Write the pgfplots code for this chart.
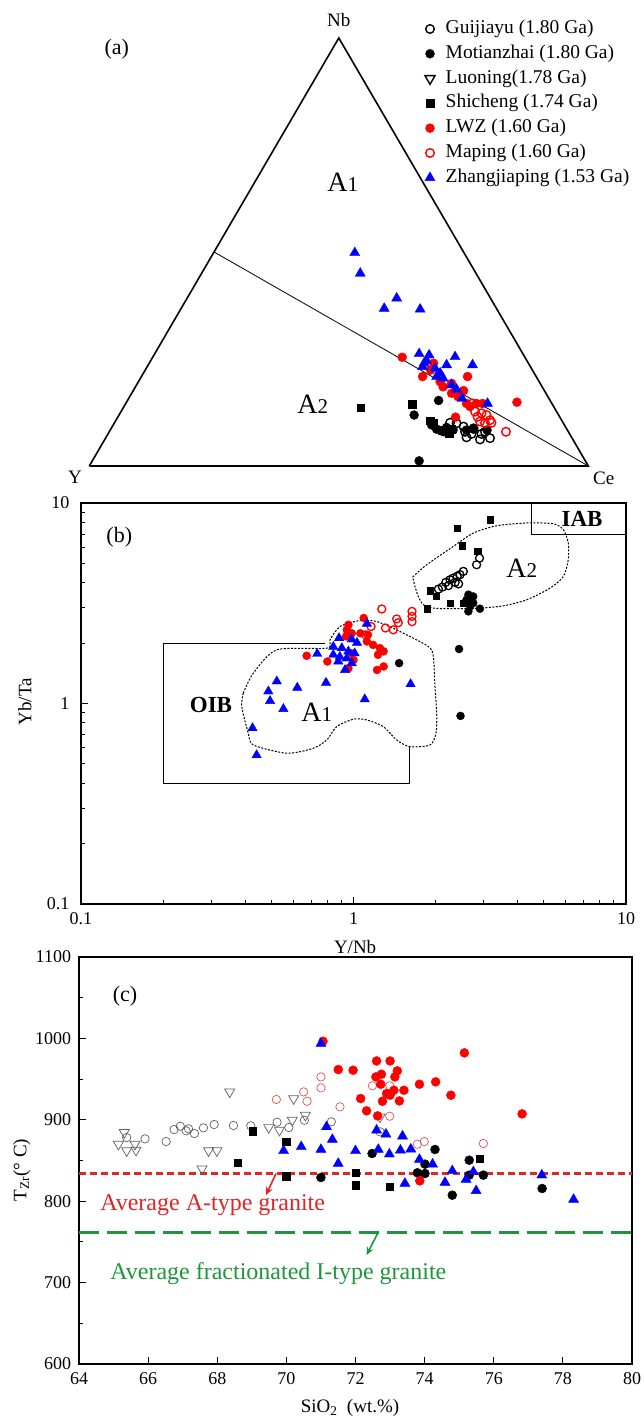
\documentclass[border=0pt]{standalone}
\usepackage{fontspec}
\setmainfont{Liberation Serif}
\usepackage{pgfplots}
\pgfplotsset{compat=1.18}
\usetikzlibrary{arrows.meta}
\newcommand{\fs}[1]{\fontsize{#1}{#1}\selectfont}
\definecolor{myred}{RGB}{255,0,0}
\definecolor{myblue}{RGB}{0,0,255}
\definecolor{linered}{RGB}{222,38,38}
\definecolor{linegreen}{RGB}{30,150,60}
\definecolor{opengray}{RGB}{95,95,95}
\definecolor{lightred}{RGB}{225,85,85}
\pgfplotsset{
  gjy/.style={only marks, mark=o, mark size=4.3pt, black, mark options={line width=1.4pt, fill=white}},
  mtz/.style={only marks, mark=*, mark size=4.5pt, black},
  ln/.style={only marks, mark=triangle, mark size=5.8pt, black, mark options={rotate=180, line width=1.4pt, fill=white}},
  sc/.style={only marks, mark=square*, mark size=3.7pt, black},
  lwz/.style={only marks, mark=*, mark size=4.5pt, myred},
  mp/.style={only marks, mark=o, mark size=4.3pt, myred, mark options={line width=1.4pt, fill=white}},
  zjp/.style={only marks, mark=triangle*, mark size=5.8pt, myblue},
}
\begin{document}
\begin{tikzpicture}[x=1pt,y=1pt]
\path[use as bounding box] (0,0) rectangle (643,1420);

% ---------------- panel (a) ----------------
\begin{axis}[at={(89.3pt,954pt)}, anchor=south west, scale only axis,
  width=499pt, height=428pt, xmin=0, xmax=1, ymin=0, ymax=1,
  hide axis, clip=false,
  legend style={at={(0.6727,1.0456)}, anchor=north west, draw=none, fill=none,
    inner sep=0pt, outer sep=0pt, font=\fs{19.5}, row sep=3.8pt,
    nodes={inner sep=1pt, text height=14pt, text depth=5pt},
    /tikz/every odd column/.append style={column sep=9.7pt}},
  legend cell align=left,
]
\addplot[black, line width=1.6pt, no markers, forget plot, line join=miter] coordinates {(0,0)(1,0)(0.5,1)(0,0)};
\addplot[black, line width=0.8pt, no markers, forget plot] coordinates {(0.25,0.5)(1,0)};

\addplot[gjy] coordinates {(0.723,0.101)(0.736,0.100)(0.750,0.092)(0.753,0.080)(0.770,0.088)(0.756,0.067)(0.783,0.062)(0.803,0.065)(0.793,0.080)(0.786,0.075)(0.766,0.075)};
\addlegendentry{Guijiayu (1.80 Ga)}
\addplot[mtz] coordinates {(0.700,0.153)(0.651,0.119)(0.686,0.096)(0.696,0.086)(0.716,0.090)(0.729,0.084)(0.756,0.084)(0.770,0.086)(0.797,0.084)(0.661,0.012)(0.710,0.080)};
\addlegendentry{Motianzhai (1.80 Ga)}
\addlegendimage{ln}
\addlegendentry{Luoning(1.78 Ga)}
\addplot[sc] coordinates {(0.544,0.136)(0.647,0.144)(0.683,0.106)(0.690,0.100)(0.721,0.075)(0.726,0.086)(0.706,0.084)};
\addlegendentry{Shicheng (1.74 Ga)}
\addplot[lwz] coordinates {(0.627,0.254)(0.690,0.240)(0.668,0.209)(0.758,0.209)(0.684,0.224)(0.703,0.197)(0.726,0.193)(0.750,0.176)(0.726,0.170)(0.739,0.162)(0.756,0.146)(0.776,0.146)(0.788,0.146)(0.857,0.149)(0.734,0.114)(0.709,0.185)(0.763,0.139)};
\addlegendentry{LWZ (1.60 Ga)}
\addplot[mp] coordinates {(0.768,0.146)(0.773,0.127)(0.786,0.123)(0.796,0.119)(0.803,0.107)(0.783,0.104)(0.806,0.101)(0.793,0.100)(0.835,0.080)(0.778,0.115)};
\addlegendentry{Maping (1.60 Ga)}
\addplot[zjp] coordinates {(0.532,0.498)(0.543,0.450)(0.616,0.392)(0.591,0.368)(0.663,0.366)(0.661,0.262)(0.681,0.259)(0.733,0.255)(0.768,0.236)(0.671,0.240)(0.693,0.228)(0.716,0.236)(0.703,0.217)(0.709,0.205)(0.726,0.189)(0.736,0.179)(0.747,0.158)(0.798,0.146)(0.696,0.209)(0.668,0.232)(0.676,0.246)};
\addlegendentry{Zhangjiaping (1.53 Ga)}

\node[font=\fs{19}] at (axis cs:0.5,1.042) {Nb};
\node[font=\fs{19}] at (axis cs:-0.0287,-0.0257) {Y};
\node[font=\fs{19}] at (axis cs:1.031,-0.028) {Ce};
\node[font=\fs{22}] at (axis cs:0.055,0.9736) {(a)};
\node at (axis cs:0.508,0.6636) {{\fs{28}A}{\fs{21}1}};
\node at (axis cs:0.448,0.1449) {{\fs{28}A}{\fs{21}2}};
\end{axis}

% ---------------- panel (b) ----------------
\begin{axis}[at={(81pt,516pt)}, anchor=south west, scale only axis,
  width=545pt, height=401pt, xmode=log, ymode=log,
  xmin=0.1, xmax=10, ymin=0.1, ymax=10,
  xtick={0.1,1,10}, ytick={0.1,1,10}, xticklabels={0.1,1,10}, yticklabels={0.1,1,10},
  minor xtick={0.2,0.3,0.4,0.5,0.6,0.7,0.8,0.9,2,3,4,5,6,7,8,9},
  minor ytick={0.2,0.3,0.4,0.5,0.6,0.7,0.8,0.9,2,3,4,5,6,7,8,9},
  tick pos=left, tick align=inside, major tick length=7pt, minor tick length=4pt,
  axis line style={line width=1.3pt}, every tick/.style={black, line width=1pt},
  ticklabel style={font=\fs{18}}, xticklabel style={yshift=-5pt}, yticklabel style={xshift=-8pt},
  xlabel={Y/Nb}, ylabel={Yb/Ta},
  xlabel style={font=\fs{19}, at={(axis description cs:0.503,-0.1065)}, anchor=center},
  ylabel style={font=\fs{19}, at={(axis description cs:-0.1028,0.504)}, anchor=center},
]
\addplot[black, line width=1pt, no markers] coordinates {(10,7)(4.5,7)(4.5,10)};
\addplot[black, line width=1pt, no markers] coordinates {(0.785,2)(0.2,2)(0.2,0.4)(1.6,0.4)(1.6,0.609)};
\addplot[black, line width=1pt, dash pattern=on 2pt off 1.5pt, no markers, smooth, tension=0.45] coordinates {
(0.394,1.126)(0.429,1.417)(0.523,1.852)(0.798,1.888)(0.820,2.078)(0.892,2.42)(1.056,2.594)(1.216,2.564)(1.481,2.286)(1.882,1.923)(1.963,1.715)(1.991,1.214)(2.020,0.895)(2.008,0.711)(1.909,0.621)(1.612,0.609)(1.440,0.658)(1.286,0.767)(1.118,0.828)(0.998,0.835)(0.868,0.767)(0.798,0.658)(0.712,0.598)(0.569,0.565)(0.429,0.621)(0.411,0.711)(0.389,0.965)(0.394,1.126)};
\addplot[black, line width=1pt, dash pattern=on 2pt off 1.5pt, no markers, smooth, tension=0.45] coordinates {
(1.649,4.272)(1.856,4.92)(2.323,6.07)(2.753,7.08)(3.354,7.70)(4.32,7.95)(5.41,7.88)(5.89,7.36)(6.14,6.31)(6.14,5.21)(5.89,4.30)(5.26,3.76)(4.32,3.29)(3.55,3.07)(2.91,2.99)(2.32,2.97)(1.963,2.99)(1.803,3.11)(1.729,3.42)(1.682,3.83)(1.649,4.272)};

\addplot[gjy, mark size=4pt, mark options={line width=1.3pt}] coordinates {(2.05,3.72)(2.12,3.81)(2.18,4.02)(2.26,4.14)(2.32,4.22)(2.40,4.31)(2.46,4.39)(2.53,4.56)(2.36,4.02)(2.23,3.87)(2.83,4.92)(2.90,5.31)(2.43,3.95)};
\addplot[mtz, mark size=4pt] coordinates {(2.64,3.49)(2.75,3.42)(2.60,3.29)(2.56,3.17)(2.68,3.05)(2.64,2.88)(2.91,2.97)(2.75,3.17)(2.44,1.87)(1.47,1.59)(2.47,0.867)};
\addplot[sc, mark size=3.2pt] coordinates {(2.40,7.50)(3.17,8.26)(2.51,6.12)(2.86,5.73)(1.91,3.66)(2.01,3.42)(2.26,3.17)(2.53,3.17)(1.86,2.97)};
\addplot[lwz, mark size=4pt] coordinates {(1.09,2.67)(0.958,2.47)(0.945,2.33)(0.939,2.16)(0.985,2.24)(1.06,2.24)(1.13,2.20)(1.12,2.04)(1.18,1.96)(1.25,1.89)(1.29,1.82)(1.23,1.75)(1.29,1.53)(1.22,1.47)(0.673,1.73)(0.802,1.62)(0.985,1.78)(0.958,1.50)(1.0,1.65)};
\addplot[mp, mark size=4pt, mark options={line width=1.3pt}] coordinates {(1.27,2.96)(1.44,2.64)(1.64,2.88)(1.64,2.72)(1.64,2.56)(1.46,2.53)(1.40,2.33)(1.31,2.38)(1.16,2.42)(1.11,2.20)};
\addplot[zjp, mark size=5.4pt] coordinates {(0.885,2.12)(0.985,2.09)(1.03,2.01)(0.843,1.92)(0.906,1.89)(0.958,1.82)(1.01,1.78)(0.843,1.75)(0.891,1.71)(0.944,1.68)(0.985,1.59)(0.931,1.47)(0.879,1.62)(0.736,1.77)(0.523,1.29)(0.622,1.20)(0.793,1.27)(0.487,1.15)(0.494,1.03)(0.553,0.940)(1.10,1.05)(1.62,1.25)(0.426,0.754)(0.441,0.553)(1.12,2.50)};

\node[font=\fs{22}] at (rel axis cs:0.0703,0.915) {(b)};
\node[font=\bfseries\fs{23}] at (rel axis cs:0.2385,0.4963) {OIB};
\node[font=\bfseries\fs{23}] at (rel axis cs:0.9193,0.9593) {IAB};
\node at (rel axis cs:0.4325,0.479) {{\fs{28}A}{\fs{21}1}};
\node at (rel axis cs:0.8086,0.8379) {{\fs{28}A}{\fs{21}2}};
\end{axis}

% ---------------- panel (c) ----------------
\begin{axis}[at={(79pt,56pt)}, anchor=south west, scale only axis,
  width=553pt, height=407pt, xmin=64, xmax=80, ymin=600, ymax=1100,
  xtick={64,66,...,80}, ytick={600,700,...,1100}, minor ytick={650,750,850,950,1050},
  tick pos=left, tick align=inside, major tick length=7pt, minor tick length=4pt,
  axis line style={line width=1.3pt}, every tick/.style={black, line width=1pt},
  /pgf/number format/assume math mode=true, /pgf/number format/1000 sep={},
  ticklabel style={font=\fs{18}}, xticklabel style={yshift=-5pt}, yticklabel style={xshift=-4.4pt},
  xlabel={SiO\textsubscript{2}\ \ (wt.\%)}, ylabel={T\textsubscript{Zr}(° C)},
  xlabel style={font=\fs{19}, at={(axis description cs:0.49,-0.108)}, anchor=center},
  ylabel style={font=\fs{19}, at={(axis description cs:-0.1036,0.4767)}, anchor=center},
]
\addplot[linered, line width=3pt, dash pattern=on 7pt off 4pt, no markers] coordinates {(64,834)(80,834)};
\addplot[linegreen, line width=3pt, dash pattern=on 20pt off 8pt, no markers] coordinates {(64,762)(80,762)};
\draw[-{Stealth[length=8pt,width=7pt]}, linered, line width=1.6pt] (axis cs:69.70,834) -- (axis cs:69.41,807.5);
\draw[-{Stealth[length=8pt,width=7pt]}, linegreen, line width=1.6pt] (axis cs:72.66,762) -- (axis cs:72.32,733.8);

\addplot[only marks, mark=o, mark size=4.2pt, opengray, mark options={line width=0.7pt}] coordinates {(65.38,878.2)(65.91,876.6)(66.52,873.3)(66.75,888)(66.93,892.1)(67.10,886.4)(67.17,888.9)(67.34,883.1)(67.60,890.1)(67.91,894.2)(68.47,893)(68.97,892.6)(69.73,897)(70.07,890.5)(70.52,899.5)(71.30,897.5)(72.71,885.2)};
\addplot[only marks, mark=triangle, mark size=5.8pt, opengray, mark options={rotate=180, line width=0.7pt}] coordinates {(65.31,884.4)(65.14,870)(65.38,862)(65.65,862.7)(65.62,870)(67.75,862)(67.99,862)(67.56,839.8)(68.36,934.3)(70.21,926)(70.17,899.5)(69.80,887.2)(69.49,890.5)(70.55,905.6)(72.71,903.6)};
\addplot[only marks, mark=o, mark size=4.2pt, lightred, mark options={line width=0.7pt}] coordinates {(69.71,924.9)(70.50,934.3)(70.60,922.8)(71.00,952.7)(71.00,939.2)(71.55,915.9)(72.49,941.7)(72.99,941.7)(72.99,904.4)(73.79,870)(73.99,873.3)(75.70,870.9)};
\addplot[sc] coordinates {(68.60,847.5)(69.02,886)(70.00,872.9)(70.00,830.8)(72.00,834.9)(72.00,819.7)(72.99,817.7)(75.60,852.5)};
\addplot[mtz] coordinates {(71.00,829.1)(72.48,858.6)(73.79,834.9)(74.01,845.5)(74.01,834)(74.30,863.5)(74.80,807.4)(75.29,850.4)(75.70,832)(77.40,815.6)(75.29,832)};
\addplot[lwz] coordinates {(71.06,996.5)(71.50,961.7)(71.93,960.9)(72.61,972.3)(73.00,972.3)(73.21,960.1)(72.59,952.7)(72.75,956)(72.73,943.7)(73.14,952.7)(73.11,936.3)(73.40,936.3)(73.00,930.2)(72.78,922.8)(73.27,923.2)(72.15,926.1)(72.32,911)(72.64,904.8)(73.85,943.7)(74.32,946.6)(74.76,930.2)(75.15,982.2)(76.82,907.3)(73.86,825)(72.90,932.2)};
\addplot[zjp] coordinates {(69.92,861.9)(70.43,866.8)(71.00,863.5)(71.00,993.6)(71.16,891.3)(71.33,875.8)(71.50,846.3)(72.00,861.9)(72.61,887.2)(72.66,863.5)(72.88,882.3)(72.98,857.8)(73.30,862.7)(73.36,879.9)(73.43,821.8)(73.60,863.9)(73.85,851.2)(74.23,845.5)(74.59,823)(74.80,837.3)(75.20,826.7)(75.41,836.1)(75.49,812.8)(77.39,832)(78.31,802.1)};

\node[font=\fs{22}] at (axis cs:65.33,1051.8) {(c)};
\node[anchor=west, font=\fs{24}, text=linered, inner sep=0pt] at (axis cs:64.61,795.2) {Average A-type granite};
\node[anchor=west, font=\fs{24}, text=linegreen, inner sep=0pt] at (axis cs:64.9,711.3) {Average fractionated I-type granite};
\end{axis}
\end{tikzpicture}
\end{document}
